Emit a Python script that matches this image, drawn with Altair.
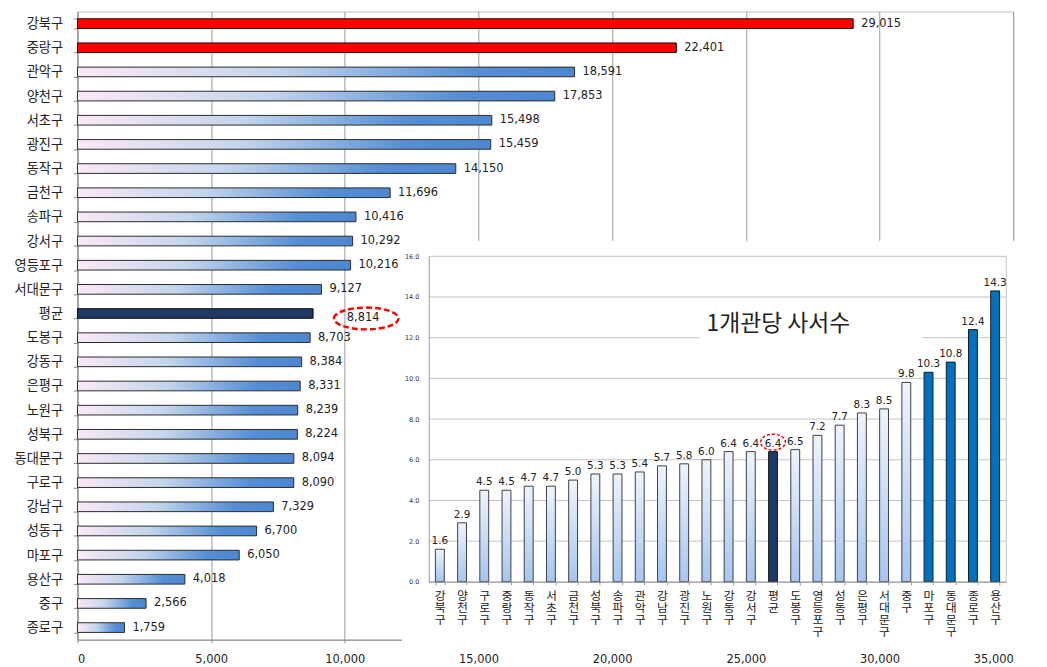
import altair as alt
import pandas as pd

# ---------------- data ----------------
main_names = ["강북구", "중랑구", "관악구", "양천구", "서초구", "광진구", "동작구", "금천구",
              "송파구", "강서구", "영등포구", "서대문구", "평균", "도봉구", "강동구", "은평구",
              "노원구", "성북구", "동대문구", "구로구", "강남구", "성동구", "마포구", "용산구",
              "중구", "종로구"]
main_values = [29015, 22401, 18591, 17853, 15498, 15459, 14150, 11696,
               10416, 10292, 10216, 9127, 8814, 8703, 8384, 8331,
               8239, 8224, 8094, 8090, 7329, 6700, 6050, 4018,
               2566, 1759]
main_red = ["강북구", "중랑구"]
avg_name = "평균"
main_ticks = [0, 5000, 10000, 15000, 20000, 25000, 30000, 35000]

inset_names = ["강북구", "양천구", "구로구", "중랑구", "동작구", "서초구", "금천구", "성북구",
               "송파구", "관악구", "강남구", "광진구", "노원구", "강동구", "강서구", "평균",
               "도봉구", "영등포구", "성동구", "은평구", "서대문구", "중구", "마포구", "동대문구",
               "종로구", "용산구"]
inset_values = [1.6, 2.9, 4.5, 4.5, 4.7, 4.7, 5.0, 5.3,
                5.3, 5.4, 5.7, 5.8, 6.0, 6.4, 6.4, 6.4,
                6.5, 7.2, 7.7, 8.3, 8.5, 9.8, 10.3, 10.8,
                12.4, 14.3]
inset_blue = ["마포구", "동대문구", "종로구", "용산구"]
inset_ticks = [0, 2, 4, 6, 8, 10, 12, 14, 16]
inset_title = "1개관당 사서수"

# ---------------- tables ----------------
def kind_main(n):
    if n in main_red:
        return "red"
    if n == avg_name:
        return "avg"
    return "grad"

def kind_inset(n):
    if n in inset_blue:
        return "blue"
    if n == avg_name:
        return "avg"
    return "grad"

main_df = pd.DataFrame({"name": main_names, "value": main_values,
                        "kind": [kind_main(n) for n in main_names]})
inset_df = pd.DataFrame({"name": inset_names, "value": inset_values,
                         "kind": [kind_inset(n) for n in inset_names]})
grid_df = pd.DataFrame({"value": inset_ticks})
one_df = pd.DataFrame({"t": [inset_title]})

W, H = 943, 633
NUM_FONT = "DejaVu Sans"
KR_FONT = "Noto Sans CJK KR"

# ---------------- main chart ----------------
main_y = alt.Y("name:N", sort=main_names,
               scale=alt.Scale(domain=main_names, paddingInner=0.6, paddingOuter=0.3),
               axis=alt.Axis(title=None, labelFont=KR_FONT, labelFontSize=13.3, labelColor="#222",
                             tickBand="extent", tickSize=4, tickColor="#888", domainColor="#888",
                             labelPadding=11, grid=False))
main_x = alt.X("value:Q",
               scale=alt.Scale(domain=[0, 35000], nice=False),
               axis=alt.Axis(title=None, values=main_ticks, labelExpr="format(datum.value, ',')",
                             grid=True, gridColor="#9a9a9a", tickSize=3, tickColor="#888",
                             domainColor="#888", labelFont=NUM_FONT, labelFontSize=11.5,
                             labelColor="#222", labelPadding=11))

mbase = alt.Chart(main_df).encode(y=main_y, x=main_x)

main_grad = {"gradient": "linear", "x1": 0, "x2": 1, "y1": 0, "y2": 0,
             "stops": [{"offset": 0, "color": "#fce8f6"},
                       {"offset": 0.4, "color": "#c3d5ec"},
                       {"offset": 0.8, "color": "#558ed5"},
                       {"offset": 1, "color": "#4d87d1"}]}

m_grad = mbase.mark_bar(fill=main_grad, stroke="#2b2b2b", strokeWidth=1).transform_filter("datum.kind == 'grad'")
m_red = mbase.mark_bar(fill="#ff0000", stroke="#111", strokeWidth=1).transform_filter("datum.kind == 'red'")
m_avg = mbase.mark_bar(fill="#1f3864", stroke="#111", strokeWidth=1).transform_filter("datum.kind == 'avg'")

m_lab = mbase.mark_text(align="left", baseline="middle", dx=8, font=NUM_FONT, fontSize=11.5,
                        color="#222").encode(text=alt.Text("value:Q", format=",")).transform_filter("datum.kind != 'avg'")
m_lab_avg = mbase.mark_text(align="left", baseline="middle", dx=34, dy=5, font=NUM_FONT, fontSize=11.5,
                            color="#222").encode(text=alt.Text("value:Q", format=",")).transform_filter("datum.kind == 'avg'")

ell_main = "M -1 0 A 1 0.338 0 1 1 1 0 A 1 0.338 0 1 1 -1 0 Z"
m_ell = mbase.mark_point(shape=ell_main, size=65 * 65, filled=False, stroke="#ff0000", strokeWidth=2.5,
                         strokeDash=[6, 3], opacity=1, xOffset=53.5, yOffset=5).transform_filter("datum.kind == 'avg'")

main_layer = alt.layer(m_grad, m_red, m_avg, m_lab, m_lab_avg, m_ell)

# ---------------- inset chart ----------------
IX0, IX1 = 354, 936
IY0, IY1 = 574.7, 246.7

inset_x = alt.X("name:N", sort=inset_names,
                scale=alt.Scale(domain=inset_names, range=[IX0, IX1], paddingInner=0.6, paddingOuter=0.3),
                axis=alt.Axis(title=None, orient="bottom", offset=IY0 - H, labelAngle=0,
                              labelExpr="split(datum.label, '')", labelFont=KR_FONT, labelFontSize=12,
                              labelLineHeight=12, labelColor="#222", labelBaseline="top",
                              labelOverlap=False, tickBand="extent", tickSize=3, tickColor="#999",
                              domainColor="#999", labelPadding=6, grid=False, zindex=1))
inset_y = alt.Y("value:Q",
                scale=alt.Scale(domain=[0, 16], range=[IY0, IY1], nice=False, zero=True),
                axis=alt.Axis(title=None, orient="left", offset=-IX0, values=inset_ticks, format=".1f",
                              grid=False, ticks=False, domainColor="#999", labelFont=NUM_FONT,
                              labelFontSize=6.5, labelColor="#333", labelPadding=10, zindex=1))

bg = alt.Chart(one_df).mark_rect(fill="white").encode(
    x=alt.value(327), x2=alt.value(965), y=alt.value(231), y2=alt.value(641))

grid = alt.Chart(grid_df).mark_rule(color="#c4c4c4", strokeWidth=1).encode(
    y=inset_y, x=alt.value(IX0), x2=alt.value(IX1))
rborder = alt.Chart(one_df).mark_rule(color="#c4c4c4", strokeWidth=1).encode(
    x=alt.value(IX1), y=alt.value(IY1), y2=alt.value(IY0))

title_box = alt.Chart(one_df).mark_rect(fill="white").encode(
    x=alt.value(627), x2=alt.value(851), y=alt.value(294), y2=alt.value(341))
title_txt = alt.Chart(one_df).mark_text(align="left", baseline="middle", font=KR_FONT, fontSize=23,
                                        color="#222").encode(
    x=alt.value(634), y=alt.value(315), text="t:N")

ibase = alt.Chart(inset_df).encode(x=inset_x, y=inset_y)
inset_grad = {"gradient": "linear", "x1": 0, "x2": 0, "y1": 0, "y2": 1,
              "stops": [{"offset": 0, "color": "#eef4fd"},
                        {"offset": 1, "color": "#a6c5f0"}]}
i_grad = ibase.mark_bar(fill=inset_grad, stroke="#404040", strokeWidth=1).transform_filter("datum.kind == 'grad'")
i_blue = ibase.mark_bar(fill="#0070c0", stroke="#1a1a1a", strokeWidth=1).transform_filter("datum.kind == 'blue'")
i_avg = ibase.mark_bar(fill="#1f3864", stroke="#1a1a1a", strokeWidth=1).transform_filter("datum.kind == 'avg'")
i_lab = ibase.mark_text(baseline="alphabetic", dy=-5, font=NUM_FONT, fontSize=10.5, color="#222").encode(
    text=alt.Text("value:Q", format=".1f"))

ell_inset = "M -1 0 A 1 0.64 0 1 1 1 0 A 1 0.64 0 1 1 -1 0 Z"
i_ell = ibase.mark_point(shape=ell_inset, size=25 * 25, filled=False, stroke="#ff0000", strokeWidth=1.5,
                         strokeDash=[3, 2], opacity=1, yOffset=-9.5).transform_filter("datum.kind == 'avg'")

inset_layer = alt.layer(bg, grid, rborder, title_box, title_txt, i_grad, i_blue, i_avg, i_lab, i_ell)

chart = alt.layer(main_layer, inset_layer).resolve_scale(
    x="independent", y="independent").resolve_axis(x="independent", y="independent").properties(
    width=W, height=H,
    autosize=alt.AutoSizeParams(type="none"),
    padding={"left": 70, "top": 1, "right": 26, "bottom": 26},
).configure_view(stroke="#c0c0c0")

chart.save("out.html", embed_options={"renderer": "svg", "actions": False})
